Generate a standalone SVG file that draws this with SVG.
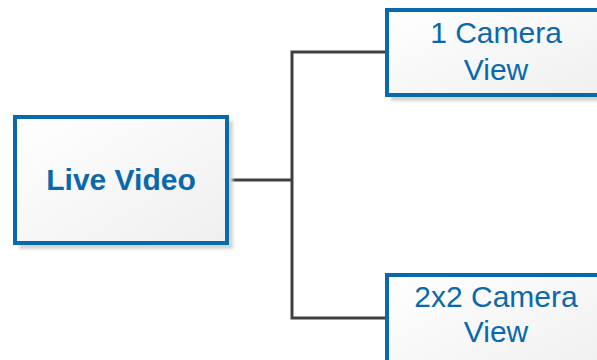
<svg xmlns="http://www.w3.org/2000/svg" width="597" height="360" viewBox="0 0 597 360">
  <defs>
    <linearGradient id="boxFill" x1="0" y1="0" x2="1" y2="1">
      <stop offset="0" stop-color="#ffffff"/>
      <stop offset="1" stop-color="#efefef"/>
    </linearGradient>
    <filter id="shadow" x="-10%" y="-10%" width="130%" height="130%">
      <feGaussianBlur stdDeviation="1.5"/>
    </filter>
  </defs>
  <style>
    .shadow { fill: #d4d4d4; filter: url(#shadow); }
    .box { fill: url(#boxFill); stroke: #0a69aa; stroke-width: 4; }
    .label { font-family: "Liberation Sans", Arial, sans-serif; font-size: 30px; fill: #0a69aa; text-anchor: middle; }
    .bold { font-weight: bold; }
    .wire { fill: none; stroke: #404040; stroke-width: 3; }
  </style>

  <g id="connectors">
    <polyline class="wire" points="227,180 292,180"/>
    <polyline class="wire" points="387,52 292,52 292,318 387,318"/>
  </g>

  <g id="live-video">
    <rect class="shadow" x="19" y="121" width="214" height="128"/>
    <rect class="box" x="15" y="117" width="212" height="126"/>
    <text class="label bold" x="121" y="190">Live Video</text>
  </g>

  <g id="camera-1">
    <rect class="shadow" x="391" y="14" width="222" height="87"/>
    <rect class="box" x="387" y="10" width="220" height="85"/>
    <text class="label" x="496" y="43">1 Camera</text>
    <text class="label" x="496" y="80">View</text>
  </g>

  <g id="camera-2x2">
    <rect class="shadow" x="391" y="279" width="222" height="100"/>
    <rect class="box" x="387" y="275" width="220" height="100"/>
    <text class="label" x="496" y="307">2x2 Camera</text>
    <text class="label" x="496" y="342">View</text>
  </g>
</svg>
